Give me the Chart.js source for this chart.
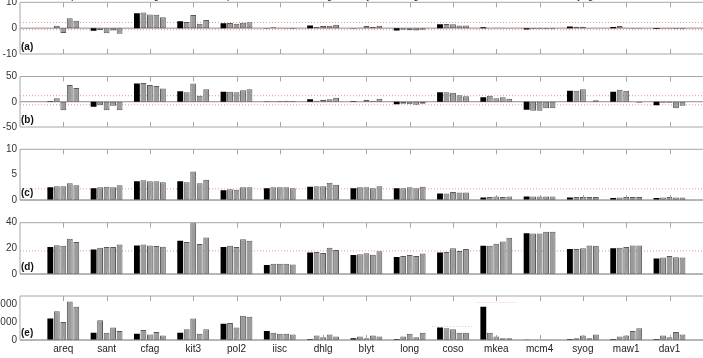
<!DOCTYPE html>
<html><head><meta charset="utf-8">
<script src="https://cdn.jsdelivr.net/npm/chart.js@4.4.0/dist/chart.umd.min.js"></script>
<style>
html,body{margin:0;padding:0;width:703px;height:358px;overflow:hidden;background:#fff;position:relative}
canvas{position:absolute;left:0}
</style></head><body>
<canvas id="ca"></canvas><canvas id="cb"></canvas><canvas id="cc"></canvas><canvas id="cd"></canvas><canvas id="ce"></canvas>
<script>
const categories = ['areq','sant','cfag','kit3','pol2','iisc','dhlg','blyt','long','coso','mkea','mcm4','syog','maw1','dav1'];

// panel (a)
const a0 = [0, -1.0, 5.8, 2.7, 1.9, 0.1, 1.0, 0.1, -0.9, 1.5, 0.3, -0.5, 0.6, 0.4, -0.3];
const a1 = [0.9, -0.7, 6.1, 2.4, 2.0, 0.3, 0.4, 0.2, -0.6, 1.6, 0.1, -0.4, 0.5, 0.8, -0.2];
const a2 = [-1.9, -2.0, 5.3, 5.1, 1.7, 0.2, 0.8, 0.8, -0.8, 1.5, 0.2, -0.4, 0.5, 0.2, -0.2];
const a3 = [3.8, -0.9, 5.2, 1.7, 2.1, -0.2, 0.9, 0.4, -0.9, 1.0, 0.2, -0.4, 0.1, -0.2, -0.3];
const a4 = [2.9, -2.2, 4.2, 3.2, 2.3, -0.3, 1.3, 0.9, -0.6, 1.0, 0.1, -0.4, 0.0, -0.2, -0.4];
const aRed = [2.2, -0.6];
const aTicks = [-10, 0, 10];

// panel (b)
const b0 = [1, -10, 36, 21, 20, 0.5, 5, 1, -5, 19, 9, -16, 22, 20, -7];
const b1 = [7, -7, 37, 19, 20, 1, 2, 0, -4, 19, 12, -18, 22, 24, -2];
const b2 = [-17, -17, 33, 36, 19, 1.5, 4, 4, -5, 18, 7, -18, 25, 22, -2];
const b3 = [33, -8, 31, 12, 23, 2, 5, 2, -6, 13, 9, -13, 0, 0, -13];
const b4 = [27, -17, 26, 25, 25, 1.5, 8, 6, -4, 11, 6, -13, 3, -2, -8];
const bRed = [12, -6];
const bTicks = [-50, 0, 50];

// panel (c)
const c0 = [2.5, 2.3, 3.7, 3.7, 1.9, 2.3, 2.6, 2.3, 2.3, 1.3, 0.5, 0.7, 0.5, 0.4, 0.4];
const c1 = [2.7, 2.5, 3.9, 3.5, 2.1, 2.5, 2.7, 2.5, 2.3, 1.3, 0.6, 0.7, 0.6, 0.5, 0.5];
const c2 = [2.7, 2.6, 3.7, 5.6, 2.0, 2.5, 2.7, 2.5, 2.5, 1.6, 0.7, 0.7, 0.6, 0.6, 0.6];
const c3 = [3.3, 2.5, 3.7, 3.3, 2.5, 2.5, 3.4, 2.3, 2.3, 1.5, 0.6, 0.7, 0.6, 0.6, 0.5];
const c4 = [2.9, 2.9, 3.5, 4.0, 2.5, 2.3, 3.0, 2.7, 2.6, 1.5, 0.7, 0.7, 0.6, 0.6, 0.5];
const cRed = [2.2];
const cTicks = [0, 5, 10];

// panel (d)
const d0 = [21, 19.2, 22.3, 26, 21, 7, 16.7, 14.9, 13.3, 16.7, 22, 31.8, 19.5, 20, 12];
const d1 = [22.5, 20.5, 23, 25, 22, 8, 17.2, 15.4, 14.1, 17.2, 22, 31.5, 19.5, 20.5, 12.8];
const d2 = [22, 21, 22.3, 42, 21, 8, 16.4, 16.2, 14.9, 20, 23.6, 31.5, 20, 21, 14.1];
const d3 = [27.5, 21, 21.8, 23.3, 27, 8, 20.5, 15.1, 14.1, 18, 25.4, 33, 22.3, 22.3, 13];
const d4 = [25, 23, 21.3, 28.5, 26, 7.5, 18.7, 17.7, 15.9, 19.5, 28.2, 33, 22, 22.3, 12.8];
const dRed = [18];
const dTicks = [0, 20, 40];

// panel (e)
const e0 = [1200, 400, 350, 400, 900, 500, 50, 100, 50, 700, 1850, 20, 50, 50, 50];
const e1 = [1600, 1100, 550, 600, 950, 400, 250, 200, 200, 650, 400, 20, 100, 200, 250];
const e2 = [1000, 400, 300, 1200, 700, 350, 150, 100, 350, 600, 200, 20, 250, 250, 150];
const e3 = [2150, 700, 450, 350, 1350, 350, 300, 250, 150, 400, 100, 20, 100, 500, 450];
const e4 = [1850, 500, 250, 600, 1300, 300, 200, 200, 400, 400, 100, 20, 300, 650, 300];
const eRed = [];
const eRedSeg = [null, null, null, null, null, null, null, null, null, 800, 2100, null, null, null, null];
const eTicks = [0, 1000, 2000];

const FONT = "'Liberation Sans', Arial, sans-serif";
const AXIS_COL = '#a6a6a6';
const RED = 'rgba(238,110,110,0.75)';
const RED_SEG = 'rgba(242,150,150,0.6)';
const labels = [''].concat(categories, ['']);
const pad = arr => [null].concat(arr, [null]);

const boxPlugin = {
  id: 'box',
  beforeDatasetsDraw(chart, args, opts) {
    const {ctx, chartArea: ca, scales} = chart;
    const y0 = scales.y.getPixelForValue(0);
    ctx.save();
    ctx.strokeStyle = '#8c8c8c';
    ctx.lineWidth = 1;
    ctx.beginPath(); ctx.moveTo(ca.left, y0); ctx.lineTo(ca.right, y0); ctx.stroke();
    if (opts.seg) {
      ctx.strokeStyle = RED_SEG;
      ctx.setLineDash([1, 2]);
      ctx.beginPath();
      opts.seg.forEach((v, i) => {
        if (v == null) return;
        const xc = scales.x.getPixelForValue(i + 1);
        const w = scales.x.getPixelForValue(2) - scales.x.getPixelForValue(1);
        const y = Math.round(scales.y.getPixelForValue(v)) + 0.5;
        ctx.moveTo(xc - 0.48 * w, y); ctx.lineTo(xc + 0.48 * w, y);
      });
      ctx.stroke();
    }
    ctx.restore();
  },
  afterDraw(chart, args, opts) {
    const {ctx, chartArea: ca, scales} = chart;
    ctx.save();
    ctx.strokeStyle = AXIS_COL;
    ctx.lineWidth = 1;
    ctx.beginPath();
    ctx.moveTo(ca.left, ca.top); ctx.lineTo(ca.right, ca.top);
    ctx.moveTo(ca.left, ca.bottom); ctx.lineTo(ca.right, ca.bottom);
    ctx.moveTo(ca.left, ca.top); ctx.lineTo(ca.left, ca.bottom);
    for (let i = 1; i <= categories.length; i++) {
      const x = Math.round(scales.x.getPixelForValue(i)) + 0.5;
      ctx.moveTo(x, ca.top); ctx.lineTo(x, ca.top + 5);
      ctx.moveTo(x, ca.bottom); ctx.lineTo(x, ca.bottom - 5);
    }
    ctx.stroke();
    ctx.fillStyle = '#111';
    ctx.font = 'bold 10px ' + FONT;
    ctx.textBaseline = 'bottom';
    ctx.textAlign = 'left';
    ctx.fillText(opts.tag, ca.left + 1, ca.bottom - 2);
    ctx.restore();
  }
};

function makePanel(id, T, B, ymin, ymax, yTicks, series, reds, tag, bottomLabels, topLabels, seg) {
  const cv = document.getElementById(id);
  const topSpace = topLabels ? 14 : 10;
  const ctop = Math.floor(T - topSpace);
  const padTop = topLabels ? 0 : (T - ctop);
  const bottomSpace = bottomLabels ? 16 : 8;
  const H = Math.ceil((T - ctop) + (B - T) + bottomSpace);
  cv.width = 730; cv.height = H;
  cv.style.top = ctop + 'px';
  cv.style.width = '730px'; cv.style.height = H + 'px';

  const datasets = series.map((s, k) => ({
    type: 'bar',
    data: pad(s),
    backgroundColor: k === 0 ? '#000000' : '#9b9b9b',
    borderColor: k === 0 ? '#000000' : '#5a5a5a',
    borderWidth: k === 0 ? 0 : 1,
    borderSkipped: false,
    categoryPercentage: 0.75,
    barPercentage: 0.9,
    order: 1
  }));
  reds.forEach(v => datasets.push({
    type: 'line',
    data: labels.map(() => v),
    borderColor: RED,
    borderWidth: 1,
    borderDash: [1, 2],
    pointRadius: 0,
    order: 5
  }));

  const scales = {
    x: {
      type: 'category', offset: false, display: !!bottomLabels,
      grid: {display: false, drawTicks: false}, border: {display: false},
      ticks: {autoSkip: false, maxRotation: 0, padding: 3, color: '#222', font: {family: FONT, size: 10}}
    },
    y: {
      min: ymin, max: ymax,
      grid: {display: false, drawTicks: false}, border: {display: false},
      ticks: {padding: 3, color: '#333', font: {family: FONT, size: 10}},
      afterBuildTicks: s => { s.ticks = yTicks.map(v => ({value: v})); },
      afterFit: s => { s.width = 20; }
    }
  };
  if (topLabels) {
    scales.xTop = {
      type: 'category', position: 'top', offset: false,
      grid: {display: false, drawTicks: false}, border: {display: false},
      ticks: {autoSkip: false, maxRotation: 0, padding: 0, color: '#222', font: {family: FONT, size: 10}},
      afterFit: s => { s.height = T - ctop; }
    };
  }
  new Chart(cv, {
    data: {labels, datasets},
    options: {
      responsive: false, animation: false,
      layout: {padding: {left: 0, right: 730 - (20 + 16 * 43.3), top: padTop, bottom: bottomLabels ? 1 : bottomSpace}},
      plugins: {legend: {display: false}, tooltip: {enabled: false}, box: {tag, seg: seg || null}},
      scales
    },
    plugins: [boxPlugin]
  });
}

makePanel('ca', 2.3, 54.3, -10, 10, aTicks, [a0, a1, a2, a3, a4], aRed, '(a)', false, true);
makePanel('cb', 76.5, 127.5, -50, 50, bTicks, [b0, b1, b2, b3, b4], bRed, '(b)', false, false);
makePanel('cc', 149.3, 201, 0, 10, cTicks, [c0, c1, c2, c3, c4], cRed, '(c)', false, false);
makePanel('cd', 222.7, 274.3, 0, 40, dTicks, [d0, d1, d2, d3, d4], dRed, '(d)', false, false);
makePanel('ce', 296, 342.5, 0, 2450, eTicks, [e0, e1, e2, e3, e4], eRed, '(e)', true, false, eRedSeg);
</script>
</body></html>
